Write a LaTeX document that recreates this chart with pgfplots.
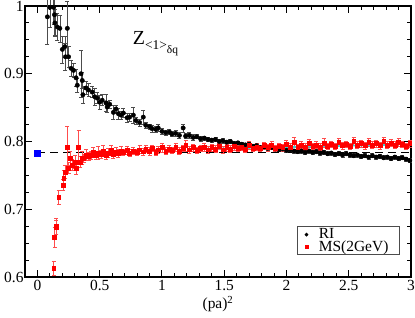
\documentclass[border=0pt]{standalone}
\usepackage{fontspec}
\setmainfont{Liberation Serif}
\usepackage{pgfplots}
\usepackage{pgfplotstable}
\pgfplotsset{compat=1.18}
\pgfplotstableread{
x y e
0.08 0.984 0.040
0.10 0.998 0.030
0.13 0.998 0.025
0.137 0.987 0.030
0.14 0.975 0.020
0.16 0.969 0.020
0.18 0.967 0.020
0.20 0.936 0.020
0.22 0.940 0.015
0.225 0.925 0.020
0.24 0.967 0.040
0.25 0.925 0.015
0.27 0.908 0.012
0.29 0.905 0.010
0.31 0.894 0.012
0.32 0.883 0.010
0.35 0.900 0.035
0.36 0.890 0.012
0.365 0.869 0.012
0.39 0.879 0.010
0.41 0.876 0.010
0.44 0.873 0.008
0.46 0.866 0.012
0.48 0.864 0.008
0.50 0.858 0.010
0.52 0.861 0.008
0.55 0.857 0.012
0.56 0.851 0.008
0.58 0.855 0.006
0.61 0.843 0.010
0.63 0.848 0.006
0.65 0.841 0.008
0.67 0.839 0.006
0.69 0.842 0.007
0.72 0.835 0.006
0.74 0.836 0.006
0.77 0.839 0.012
0.79 0.831 0.005
0.82 0.828 0.005
0.85 0.836 0.010
0.87 0.824 0.005
0.90 0.822 0.004
0.92 0.819 0.005
0.95 0.818 0.004
0.97 0.820 0.005
1.00 0.815 0.004
1.03 0.813 0.004
1.06 0.814 0.004
1.08 0.811 0.004
1.11 0.812 0.004
1.14 0.809 0.004
1.17 0.820 0.006
1.19 0.808 0.004
1.22 0.809 0.004
1.25 0.806 0.004
1.28 0.807 0.003
1.31 0.804 0.004
1.34 0.805 0.003
1.37 0.803 0.003
1.40 0.802 0.003
1.43 0.803 0.003
1.46 0.800 0.003
1.49 0.801 0.003
1.52 0.799 0.003
1.55 0.800 0.003
1.58 0.797 0.003
1.61 0.798 0.003
1.64 0.796 0.003
1.67 0.795 0.003
1.70 0.796 0.003
1.73 0.793 0.003
1.76 0.794 0.003
1.79 0.791 0.003
1.82 0.792 0.003
1.85 0.790 0.003
1.88 0.791 0.003
1.91 0.789 0.003
1.94 0.788 0.003
1.97 0.789 0.003
2.00 0.787 0.003
2.03 0.788 0.003
2.06 0.786 0.003
2.09 0.785 0.003
2.12 0.786 0.003
2.15 0.784 0.003
2.18 0.786 0.003
2.21 0.784 0.003
2.24 0.785 0.003
2.27 0.783 0.003
2.30 0.784 0.003
2.33 0.782 0.003
2.36 0.783 0.003
2.39 0.781 0.003
2.42 0.782 0.003
2.45 0.780 0.003
2.48 0.782 0.003
2.51 0.780 0.003
2.54 0.779 0.003
2.57 0.780 0.003
2.60 0.778 0.003
2.63 0.779 0.003
2.66 0.777 0.003
2.69 0.779 0.003
2.72 0.777 0.003
2.75 0.778 0.003
2.78 0.776 0.003
2.81 0.777 0.003
2.84 0.775 0.003
2.87 0.777 0.003
2.90 0.775 0.003
2.93 0.776 0.003
2.96 0.774 0.003
2.99 0.772 0.003
}\RIdata
\pgfplotstableread{
x y e
0.13 0.613 0.010
0.137 0.659 0.015
0.15 0.675 0.012
0.152 0.673 0.010
0.17 0.718 0.010
0.207 0.736 0.008
0.21 0.746 0.012
0.225 0.755 0.010
0.24 0.792 0.030
0.25 0.761 0.008
0.265 0.775 0.010
0.28 0.765 0.008
0.30 0.770 0.010
0.31 0.761 0.010
0.33 0.792 0.025
0.345 0.770 0.008
0.36 0.776 0.010
0.37 0.775 0.006
0.39 0.780 0.008
0.41 0.778 0.006
0.43 0.780 0.006
0.45 0.784 0.008
0.47 0.779 0.006
0.49 0.783 0.010
0.51 0.781 0.006
0.53 0.786 0.008
0.55 0.779 0.006
0.57 0.783 0.007
0.59 0.787 0.008
0.61 0.781 0.006
0.63 0.785 0.006
0.65 0.782 0.006
0.67 0.786 0.007
0.69 0.784 0.005
0.72 0.787 0.006
0.74 0.783 0.005
0.77 0.786 0.005
0.80 0.784 0.005
0.82 0.788 0.006
0.85 0.785 0.005
0.87 0.789 0.005
0.90 0.786 0.006
0.92 0.790 0.005
0.95 0.784 0.005
0.97 0.788 0.005
1.00 0.791 0.007
1.03 0.786 0.005
1.06 0.789 0.005
1.08 0.787 0.005
1.11 0.791 0.006
1.14 0.786 0.005
1.17 0.790 0.005
1.19 0.794 0.008
1.22 0.788 0.005
1.25 0.791 0.005
1.28 0.787 0.005
1.31 0.790 0.005
1.34 0.792 0.006
1.37 0.788 0.005
1.40 0.791 0.005
1.43 0.789 0.005
1.46 0.793 0.005
1.49 0.788 0.005
1.52 0.791 0.005
1.55 0.789 0.005
1.58 0.793 0.006
1.61 0.790 0.005
1.64 0.792 0.005
1.67 0.789 0.005
1.70 0.794 0.006
1.73 0.790 0.005
1.76 0.792 0.005
1.79 0.790 0.005
1.82 0.794 0.005
1.85 0.791 0.005
1.88 0.795 0.006
1.91 0.790 0.005
1.94 0.793 0.005
1.97 0.791 0.005
2.00 0.796 0.006
2.03 0.792 0.005
2.06 0.799 0.007
2.09 0.791 0.005
2.12 0.795 0.005
2.15 0.792 0.005
2.18 0.797 0.006
2.21 0.793 0.005
2.24 0.795 0.005
2.27 0.792 0.005
2.30 0.798 0.006
2.33 0.793 0.005
2.36 0.796 0.005
2.39 0.793 0.005
2.42 0.799 0.006
2.45 0.794 0.005
2.48 0.796 0.005
2.51 0.793 0.005
2.54 0.800 0.006
2.57 0.795 0.005
2.60 0.797 0.005
2.63 0.794 0.005
2.66 0.799 0.006
2.69 0.795 0.005
2.72 0.797 0.005
2.75 0.794 0.005
2.78 0.800 0.006
2.81 0.795 0.005
2.84 0.798 0.005
2.87 0.795 0.005
2.90 0.799 0.006
2.93 0.796 0.005
2.96 0.793 0.005
2.99 0.797 0.005
}\MSdata
\definecolor{fitcyan}{RGB}{64,208,208}
\begin{document}
\begin{tikzpicture}
\begin{axis}[
  name=ax,
  scale only axis,
  width=386bp, height=271bp,
  xmin=-0.1, xmax=3, ymin=0.6, ymax=1,
  xtick distance=0.5, ytick distance=0.1,
  minor x tick num=4, minor y tick num=3,
  xtick pos=both, ytick pos=both,
  xticklabel pos=lower, yticklabel pos=left,
  tick align=inside,
  major tick length=7bp, minor tick length=4bp,
  every tick/.style={black, line width=1pt},
  axis line style={line width=1.3pt},
  tick label style={font=\fontsize{15.5}{17}\selectfont},
  yticklabel style={xshift=2bp},
  /pgf/number format/assume math mode=true,
  xlabel={(pa)\textsuperscript{2}},
  xlabel style={font=\fontsize{15.5}{17}\selectfont, yshift=2bp},
  legend style={at={(0.971,0.081)}, anchor=south east, draw=black!70, line width=0.8pt,
    font=\fontsize{15.5}{15.5}\selectfont, inner xsep=8bp, inner ysep=2bp, row sep=0pt,
    nodes={inner xsep=3bp, inner ysep=0bp},
    /tikz/every odd column/.append style={column sep=8bp}},
  legend cell align=left,
  clip=false,
]
\addplot[black, dashed, line width=1.3pt, dash pattern=on 8bp off 5bp, forget plot] coordinates {(0,0.7835) (3,0.7835)};
\addplot[only marks, mark=*, black, mark size=2.2bp,
  legend image post style={mark size=1.4bp},
  error bars/.cd, y dir=both, y explicit,
  error bar style={black!70, line width=0.6pt},
  error mark options={rotate=90, mark size=2bp, line width=0.6pt, black!70}]
  table[x=x, y=y, y error=e] {\RIdata};
\addlegendentry{RI}
\addplot[only marks, mark=square*, red, mark size=1.9bp,
  legend image post style={mark size=1.4bp},
  error bars/.cd, y dir=both, y explicit,
  error bar style={red!70, line width=0.6pt},
  error mark options={rotate=90, mark size=2bp, line width=0.6pt, red!70}]
  table[x=x, y=y, y error=e] {\MSdata};
\addlegendentry{MS(2GeV)}
\addplot[fitcyan, line width=1.8pt, forget plot] coordinates {(1.31,0.789) (2.9,0.7955)};
\addplot[only marks, mark=square*, blue, mark size=3bp, forget plot] coordinates {(0,0.783)};
\node[anchor=west, inner sep=0pt] at (axis cs:0.765,0.944) {\fontsize{20}{21}\selectfont Z\raisebox{-0.55ex}{\fontsize{13.5}{14}\selectfont <1>\raisebox{-0.65ex}{\fontsize{11.5}{12}\selectfont δq}}};
\end{axis}
\pgfresetboundingbox
\useasboundingbox ([xshift=-25bp,yshift=-41bp]ax.south west) rectangle ([xshift=4bp,yshift=6bp]ax.north east);
\end{tikzpicture}
\end{document}
